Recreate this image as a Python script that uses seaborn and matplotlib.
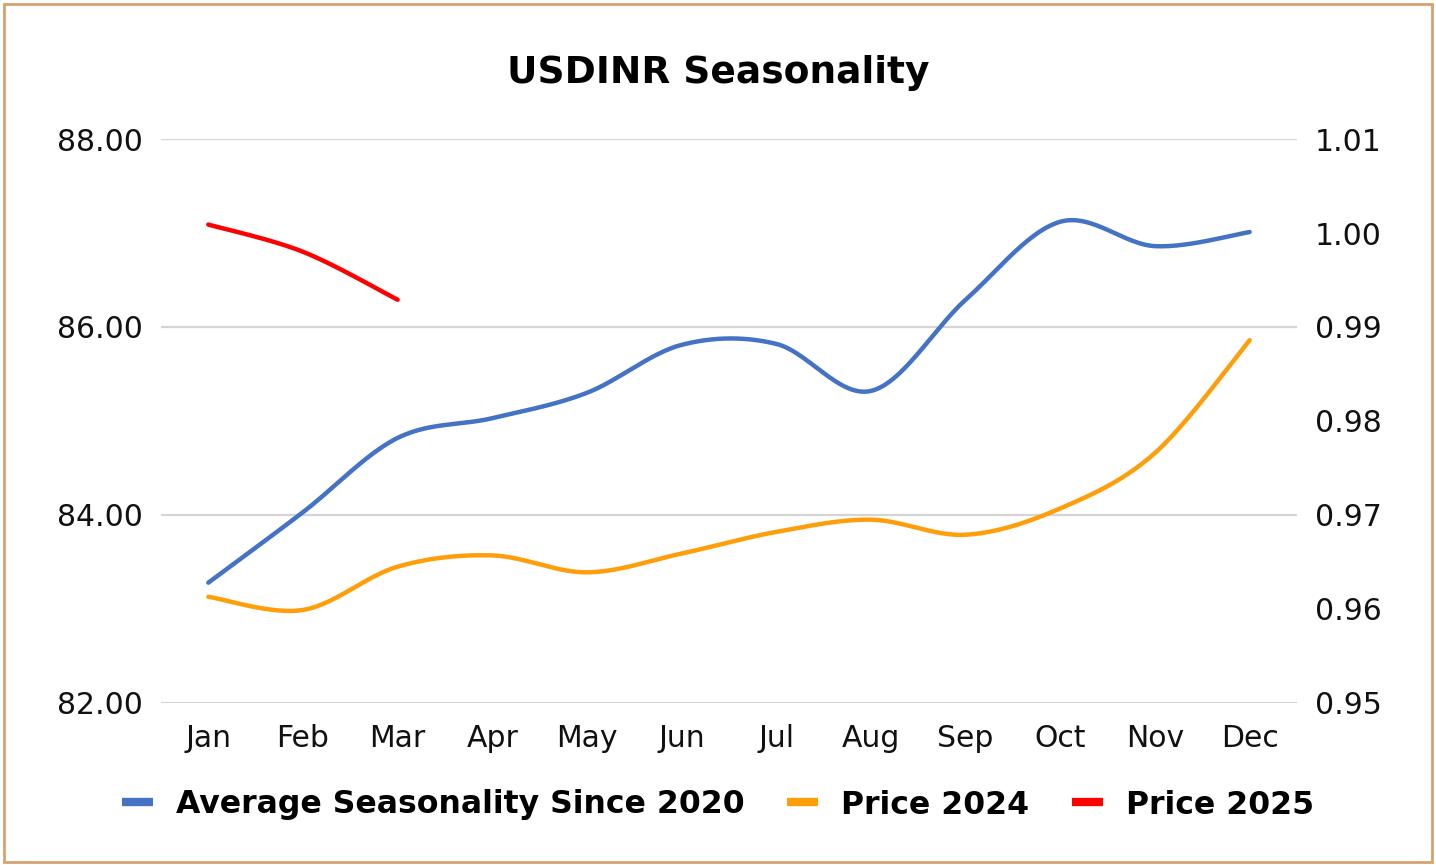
import numpy as np
import pandas as pd
import matplotlib
matplotlib.use("Agg")
import matplotlib.pyplot as plt
import seaborn as sns
from matplotlib.lines import Line2D
from matplotlib.patches import Rectangle

# ---------------- data ----------------
months = ["Jan", "Feb", "Mar", "Apr", "May", "Jun", "Jul", "Aug", "Sep", "Oct", "Nov", "Dec"]
avg_seasonality = [0.9628, 0.9703, 0.9782, 0.9803, 0.9830, 0.9881, 0.9882, 0.9832, 0.9929, 1.0012, 0.9986, 1.0001]
price_2024 = [83.13, 82.99, 83.45, 83.57, 83.39, 83.59, 83.82, 83.95, 83.79, 84.07, 84.66, 85.86]
price_2025 = [87.09, 86.80, 86.29]
left_ticks = [82, 84, 86, 88]
right_ticks = [0.95, 0.96, 0.97, 0.98, 0.99, 1.00, 1.01]

labels = ["Average Seasonality Since 2020", "Price 2024", "Price 2025"]
colors = ["#4472C4", "#FF9E0B", "#FF0000"]


def smooth(ys, n=30):
    """Catmull-Rom style smoothed curve through the data points (like Excel's smoothed line)."""
    ys = np.asarray(ys, dtype=float)
    xs = np.arange(len(ys), dtype=float)
    px = np.concatenate([[xs[0]], xs, [xs[-1]]])
    py = np.concatenate([[ys[0]], ys, [ys[-1]]])
    outx, outy = [], []
    t = np.linspace(0, 1, n)
    for i in range(len(ys) - 1):
        p0x, p1x, p2x, p3x = px[i], px[i + 1], px[i + 2], px[i + 3]
        p0y, p1y, p2y, p3y = py[i], py[i + 1], py[i + 2], py[i + 3]
        c1x, c1y = p1x + (p2x - p0x) / 6, p1y + (p2y - p0y) / 6
        c2x, c2y = p2x - (p3x - p1x) / 6, p2y - (p3y - p1y) / 6
        bx = (1 - t) ** 3 * p1x + 3 * (1 - t) ** 2 * t * c1x + 3 * (1 - t) * t ** 2 * c2x + t ** 3 * p2x
        by = (1 - t) ** 3 * p1y + 3 * (1 - t) ** 2 * t * c1y + 3 * (1 - t) * t ** 2 * c2y + t ** 3 * p2y
        if i > 0:
            bx, by = bx[1:], by[1:]
        outx.append(bx)
        outy.append(by)
    return pd.DataFrame({"x": np.concatenate(outx), "y": np.concatenate(outy)})


sns.set_theme(style="white")
plt.rcParams["font.family"] = ["DejaVu Sans"]

fig = plt.figure(figsize=(14.36, 8.65), dpi=100)
fig.patch.set_facecolor("white")
ax = fig.add_axes([0.1121, 0.1873, 0.7911, 0.6520])
ax2 = ax.twinx()

lw = 3.2
d24 = smooth(price_2024)
d25 = smooth(price_2025)
davg = smooth(avg_seasonality)
sns.lineplot(data=d24, x="x", y="y", ax=ax, color=colors[1], lw=lw, sort=False, legend=False)
sns.lineplot(data=d25, x="x", y="y", ax=ax, color=colors[2], lw=lw, sort=False, legend=False)
sns.lineplot(data=davg, x="x", y="y", ax=ax2, color=colors[0], lw=lw, sort=False, legend=False)

ax.set_xlim(-0.5, len(months) - 0.5)
ax.set_ylim(82, 88)
ax2.set_ylim(0.95, 1.01)
ax.set_yticks(left_ticks)
ax.set_yticklabels([f"{v:.2f}" for v in left_ticks])
ax2.set_yticks(right_ticks)
ax2.set_yticklabels([f"{v:.2f}" for v in right_ticks])
ax.set_xticks(range(len(months)))
ax.set_xticklabels(months)
for a in (ax, ax2):
    a.set_xlabel("")
    a.set_ylabel("")
    for s in a.spines.values():
        s.set_visible(False)
    a.tick_params(length=0, labelsize=21.5, colors="#111111")
ax.tick_params(axis="y", pad=13)
ax2.tick_params(axis="y", pad=13)
ax.tick_params(axis="x", pad=15)

ax.yaxis.grid(True, color="#D4D4D4", lw=1.6)
ax.xaxis.grid(False)
ax2.grid(False)
ax.set_axisbelow(True)

fig.text(0.5, 1 - 73 / 865, "USDINR Seasonality", ha="center", va="center",
         fontsize=27, fontweight="bold", color="#000000")

handles = [Line2D([0], [0], color=c, lw=6, solid_capstyle="butt") for c in colors]
leg = fig.legend(handles, labels, loc="center", bbox_to_anchor=(0.5, 1 - 805 / 865), ncol=3,
                 frameon=False, handlelength=1.0, handletextpad=0.73, columnspacing=1.33,
                 prop={"size": 22.7, "weight": "bold"})
for txt in leg.get_texts():
    txt.set_color("#000000")

fig.patches.append(Rectangle((4 / 1436, 3 / 865), 1428 / 1436, 858 / 865, transform=fig.transFigure,
                             fill=False, edgecolor="#D5A36E", lw=2, zorder=10))

fig.savefig("out.png", dpi=100, facecolor="white")
